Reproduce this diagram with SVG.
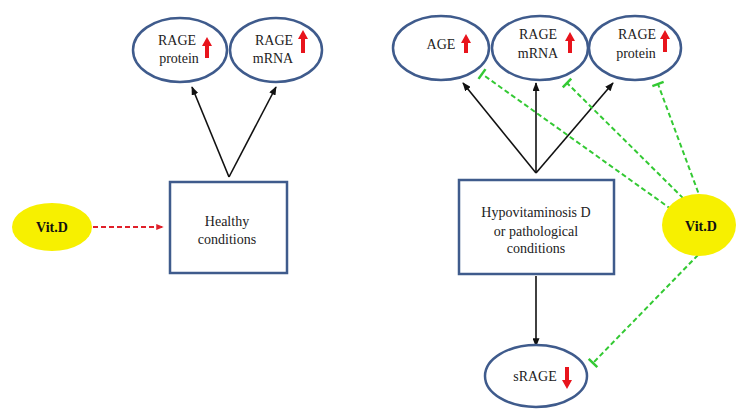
<svg xmlns="http://www.w3.org/2000/svg" width="737" height="410" viewBox="0 0 737 410">
<style>
.node{fill:#fff;stroke:#3f5b8c;stroke-width:2.5}
.vit{fill:#f7f000;stroke:none}
.t{font-family:"Liberation Serif","Times New Roman",serif;font-size:14px;fill:#222;text-anchor:middle}
.b{font-weight:bold;font-size:14px;fill:#111}
.blk{stroke:#111;stroke-width:1.6;fill:none;marker-end:url(#ah)}
.grn{stroke:#33c933;stroke-width:2;stroke-dasharray:5,3;fill:none;marker-end:url(#tb)}
.red{stroke:#e0202a;stroke-width:2;stroke-dasharray:5,3;fill:none;marker-end:url(#ahr)}
.up{fill:#e8141c}
</style>
<defs>
<marker id="ah" viewBox="0 0 10 8" refX="9" refY="4" markerWidth="9" markerHeight="7" markerUnits="userSpaceOnUse" orient="auto"><path d="M0,0 L10,4 L0,8 z" fill="#111"/></marker>
<marker id="ahr" viewBox="0 0 10 8" refX="9" refY="4" markerWidth="8" markerHeight="6" markerUnits="userSpaceOnUse" orient="auto"><path d="M0,0 L10,4 L0,8 z" fill="#e0202a"/></marker>
<marker id="tb" viewBox="0 -7 4 14" refX="2" refY="0" markerWidth="4" markerHeight="14" markerUnits="userSpaceOnUse" orient="auto"><path d="M2,-6 V6" stroke="#33c933" stroke-width="2.5"/></marker>
</defs>
<g id="connectors">
<line class="blk" x1="229" y1="177" x2="192" y2="87"/>
<line class="blk" x1="229" y1="177" x2="276" y2="87"/>
<line class="red" x1="93" y1="227" x2="163" y2="227"/>
<line class="blk" x1="536" y1="173" x2="463" y2="83"/>
<line class="blk" x1="536" y1="173" x2="536" y2="83"/>
<line class="blk" x1="536" y1="173" x2="613" y2="83"/>
<line class="blk" x1="536" y1="276" x2="536" y2="346"/>
<line class="grn" x1="678" y1="214" x2="482" y2="74"/>
<line class="grn" x1="689" y1="204" x2="567" y2="83"/>
<line class="grn" x1="701" y1="200" x2="658" y2="84"/>
<line class="grn" x1="698" y1="255" x2="593" y2="363"/>
</g>
<g id="rage-protein-left">
<ellipse class="node" cx="180" cy="50" rx="47" ry="32"/>
<text class="t" x="177" y="45">RAGE</text>
<text class="t" x="179" y="63">protein</text>
<path class="up" d="M207,37 L212,46 L209,46 L209,58 L205,58 L205,46 L202,46 z"/>
</g>
<g id="rage-mrna-left">
<ellipse class="node" cx="276" cy="50" rx="46" ry="32"/>
<text class="t" x="274" y="45">RAGE</text>
<text class="t" x="273" y="63">mRNA</text>
<path class="up" d="M303,30 L308,39 L305,39 L305,53 L301,53 L301,39 L298,39 z"/>
</g>
<g id="healthy">
<rect class="node" x="170" y="182" width="117" height="91"/>
<text class="t" x="227" y="226">Healthy</text>
<text class="t" x="227" y="244">conditions</text>
</g>
<g id="vitd-left">
<ellipse class="vit" cx="52" cy="227" rx="40" ry="24"/>
<text class="t b" x="52" y="232">Vit.D</text>
</g>
<g id="age">
<ellipse class="node" cx="441" cy="48" rx="48" ry="32"/>
<text class="t" x="441" y="49">AGE</text>
<path class="up" d="M466,34 L471,43 L468,43 L468,53 L464,53 L464,43 L461,43 z"/>
</g>
<g id="rage-mrna-right">
<ellipse class="node" cx="540" cy="48" rx="48" ry="32"/>
<text class="t" x="538" y="39">RAGE</text>
<text class="t" x="538" y="58">mRNA</text>
<path class="up" d="M570,32 L575,41 L572,41 L572,53 L568,53 L568,41 L565,41 z"/>
</g>
<g id="rage-protein-right">
<ellipse class="node" cx="635" cy="48" rx="46" ry="32"/>
<text class="t" x="637" y="39">RAGE</text>
<text class="t" x="636" y="58">protein</text>
<path class="up" d="M665,30 L670,39 L667,39 L667,52 L663,52 L663,39 L660,39 z"/>
</g>
<g id="hypovitaminosis">
<rect class="node" x="459" y="180" width="155" height="94"/>
<text class="t" x="536" y="217">Hypovitaminosis D</text>
<text class="t" x="536" y="236">or pathological</text>
<text class="t" x="536" y="253">conditions</text>
</g>
<g id="vitd-right">
<ellipse class="vit" cx="699" cy="225" rx="37" ry="31"/>
<text class="t b" x="701" y="231">Vit.D</text>
</g>
<g id="srage">
<ellipse class="node" cx="536" cy="376" rx="51" ry="31"/>
<text class="t" x="535" y="381">sRAGE</text>
<path class="up" d="M567,389 L572,380 L569,380 L569,367 L565,367 L565,380 L562,380 z"/>
</g>
</svg>
